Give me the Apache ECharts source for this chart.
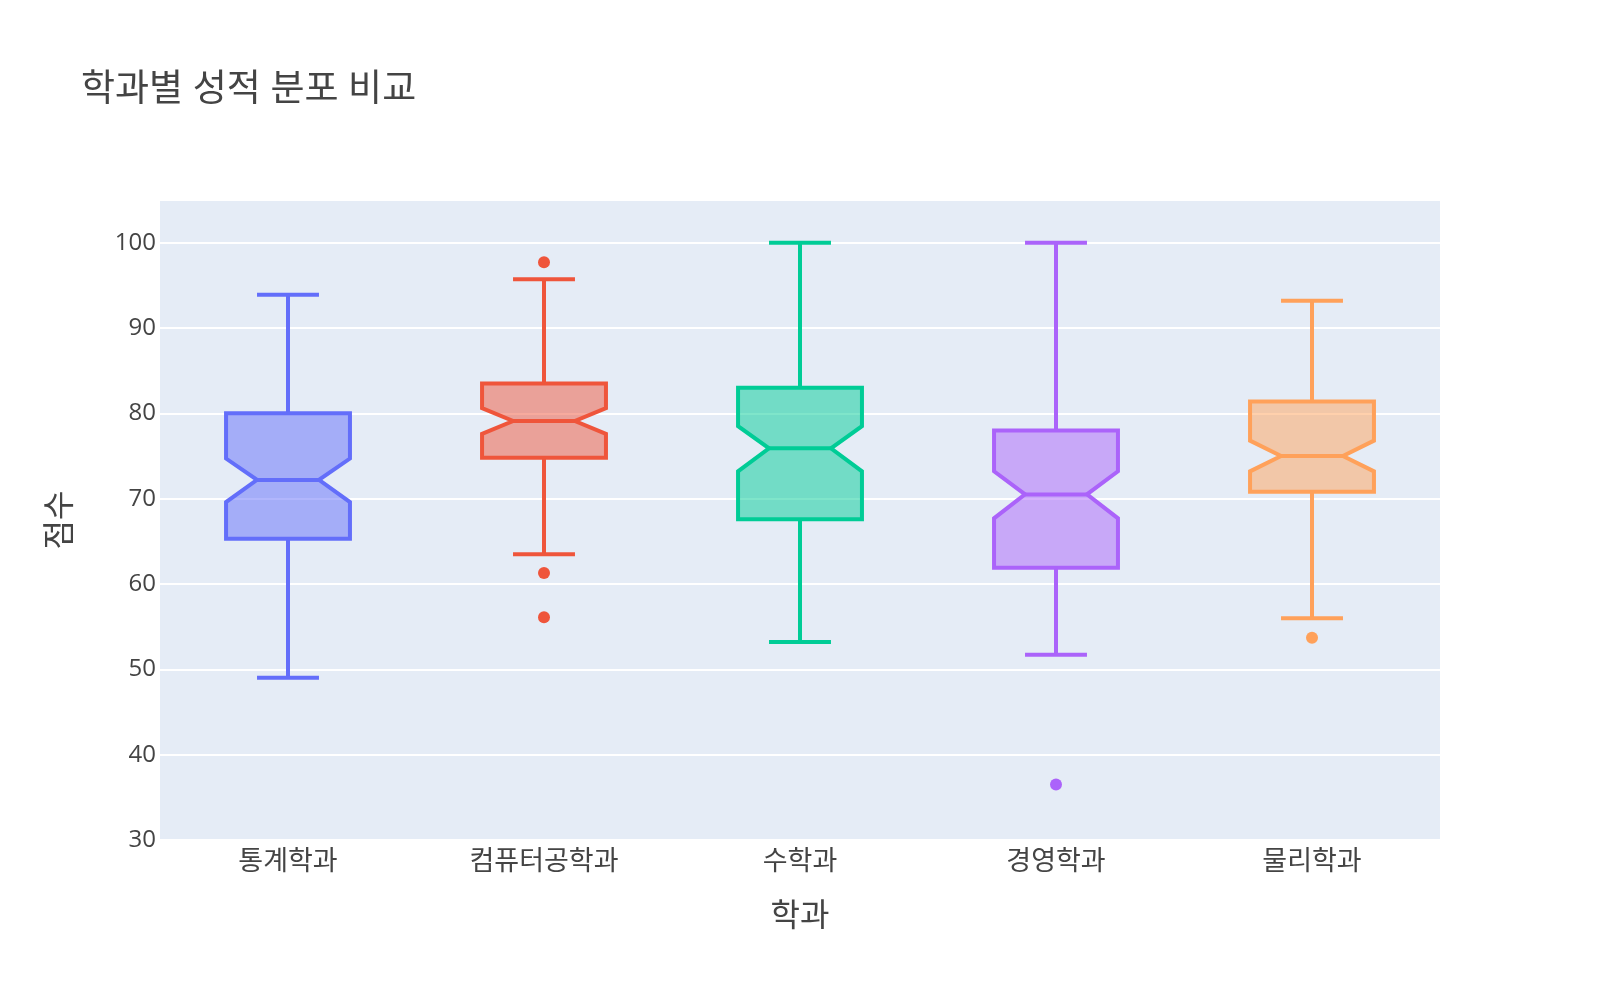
<!DOCTYPE html>
<html>
<head>
<meta charset="utf-8">
<script src="https://cdn.jsdelivr.net/npm/echarts@6/dist/echarts.min.js"></script>
<style>
  html, body { margin: 0; padding: 0; background: #fff; }
  #chart { width: 1600px; height: 1000px; }
</style>
</head>
<body>
<div id="chart"></div>
<script>
const departments = ["통계학과", "컴퓨터공학과", "수학과", "경영학과", "물리학과"];
const lowerFence = [49.0, 63.5, 53.2, 51.7, 56.0];
const q1 = [65.3, 74.8, 67.6, 61.9, 70.8];
const notchLow = [69.6, 77.6, 73.2, 67.7, 73.2];
const median = [72.2, 79.1, 75.9, 70.5, 75.0];
const notchHigh = [74.7, 80.6, 78.5, 73.2, 76.8];
const q3 = [80.0, 83.5, 83.0, 78.0, 81.4];
const upperFence = [93.9, 95.7, 100.0, 100.0, 93.2];
const outliers = [[], [97.7, 61.3, 56.1], [], [36.5], [53.7]];
const colors = ["#636efa", "#EF553B", "#00cc96", "#ab63fa", "#FFA15A"];

const FONT = "'Open Sans', 'Noto Sans CJK KR', sans-serif";

function withAlpha(hex, a) {
  const n = parseInt(hex.slice(1), 16);
  return `rgba(${(n >> 16) & 255},${(n >> 8) & 255},${n & 255},${a})`;
}

const chart = echarts.init(document.getElementById("chart"));

const boxData = departments.map((d, i) => [
  i, lowerFence[i], q1[i], notchLow[i], median[i], notchHigh[i], q3[i], upperFence[i],
]);

const outlierData = [];
outliers.forEach((vals, i) => {
  vals.forEach((v) => outlierData.push({ value: [i, v], itemStyle: { color: colors[i], opacity: 1 } }));
});

function renderBox(params, api) {
  const i = api.value(0);
  const c = colors[i];
  const bw = api.size([1, 0])[0] * 0.484;
  const x = api.coord([i, api.value(4)])[0];
  const y = (dim) => api.coord([i, api.value(dim)])[1];
  const l = x - bw / 2, r = x + bw / 2;
  const il = x - bw / 4, ir = x + bw / 4;
  const yLo = y(1), yQ1 = y(2), yNl = y(3), yMed = y(4), yNh = y(5), yQ3 = y(6), yHi = y(7);
  const stroke = { stroke: c, lineWidth: 4, lineJoin: "miter", fill: null };
  return {
    type: "group",
    children: [
      { type: "line", shape: { x1: x, y1: yQ3, x2: x, y2: yHi }, style: stroke },
      { type: "line", shape: { x1: x, y1: yQ1, x2: x, y2: yLo }, style: stroke },
      { type: "line", shape: { x1: il, y1: yHi, x2: ir, y2: yHi }, style: stroke },
      { type: "line", shape: { x1: il, y1: yLo, x2: ir, y2: yLo }, style: stroke },
      {
        type: "polygon",
        shape: {
          points: [
            [l, yQ1], [l, yNl], [il, yMed], [l, yNh], [l, yQ3],
            [r, yQ3], [r, yNh], [ir, yMed], [r, yNl], [r, yQ1],
          ],
        },
        style: { fill: withAlpha(c, 0.5), stroke: c, lineWidth: 4, lineJoin: "miter" },
      },
      { type: "line", shape: { x1: il, y1: yMed, x2: ir, y2: yMed }, style: stroke },
    ],
  };
}

const option = {
  animation: false,
  backgroundColor: "#fff",
  textStyle: { fontFamily: FONT },
  title: {
    text: "학과별 성적 분포 비교",
    left: 76,
    top: 67,
    textStyle: { fontFamily: FONT, fontSize: 37, fontWeight: "normal", color: "#444" },
  },
  grid: {
    left: 160, right: 160, top: 200, bottom: 160,
    show: true, backgroundColor: "#E5ECF6", borderWidth: 0,
  },
  xAxis: {
    type: "category",
    data: departments,
    name: "학과",
    nameLocation: "middle",
    nameGap: 61,
    nameTextStyle: { fontFamily: FONT, fontSize: 32, color: "#444" },
    axisLine: { show: false },
    axisTick: { show: false },
    axisLabel: { fontFamily: FONT, fontSize: 27, color: "#444", margin: 9 },
    splitLine: { show: false },
  },
  yAxis: {
    type: "value",
    min: 30,
    max: 105,
    interval: 10,
    name: "점수",
    nameLocation: "middle",
    nameGap: 83,
    nameTextStyle: { fontFamily: FONT, fontSize: 32, color: "#444" },
    axisLine: { show: false },
    axisTick: { show: false },
    axisLabel: { fontFamily: FONT, fontSize: 24, color: "#444", margin: 4, showMaxLabel: false },
    splitLine: { lineStyle: { color: "#fff", width: 2 } },
  },
  series: [
    {
      type: "custom",
      renderItem: renderBox,
      data: boxData,
      encode: { x: 0, y: [1, 2, 3, 4, 5, 6, 7] },
      z: 2,
    },
    {
      type: "scatter",
      data: outlierData,
      symbolSize: 12,
      z: 3,
    },
  ],
};

chart.setOption(option);
</script>
</body>
</html>
